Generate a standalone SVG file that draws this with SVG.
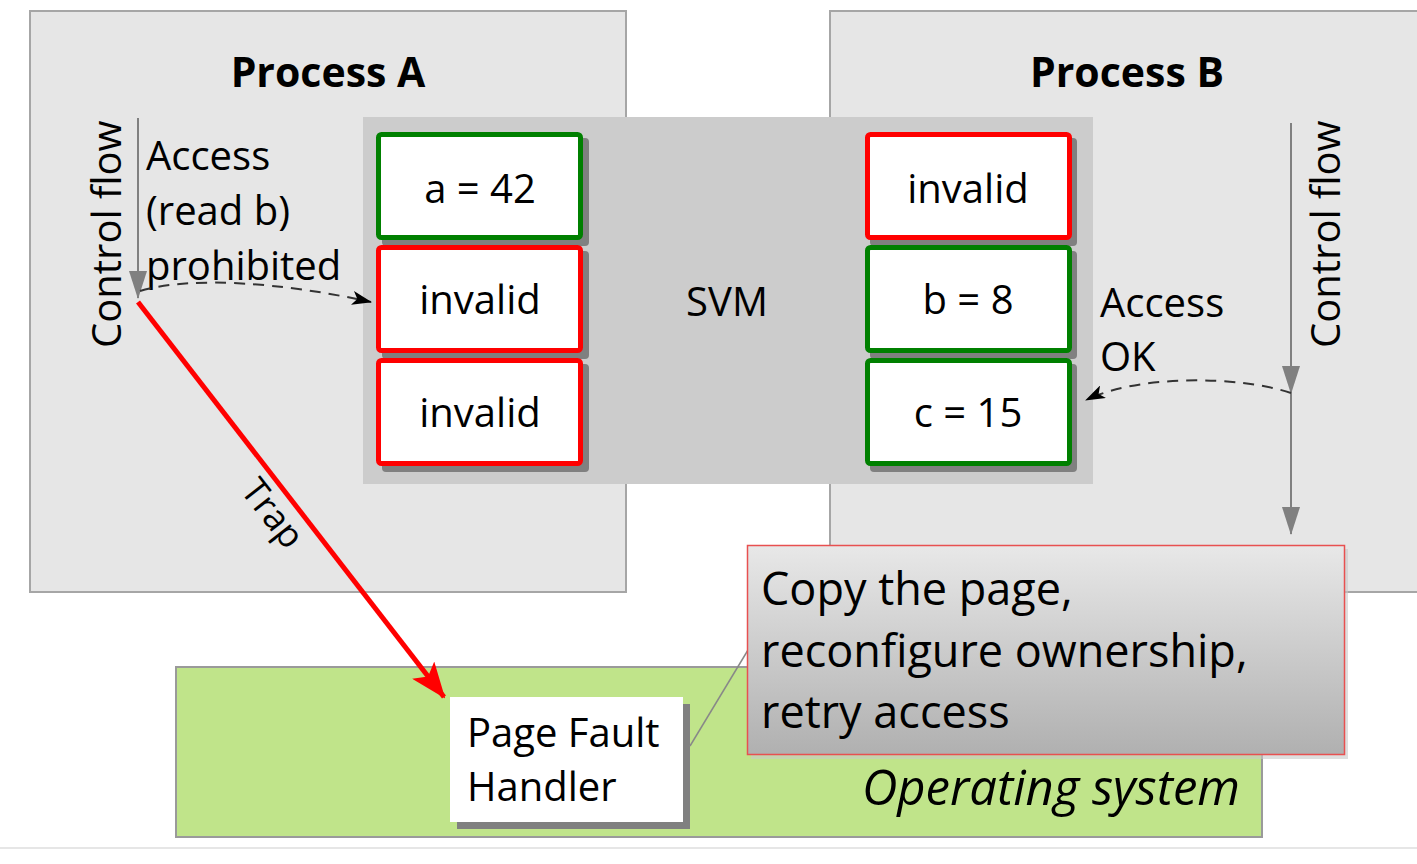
<svg xmlns="http://www.w3.org/2000/svg" width="1417" height="864" viewBox="0 0 1417 864">
<style>
text{font-family:"Open Sans","Noto Sans","Liberation Sans",sans-serif;fill:#000}
.proc{fill:#e6e6e6;stroke:#a6a6a6;stroke-width:2}
.title{font-weight:bold;font-size:41px;text-anchor:middle}
.lbl{font-size:40px}
.mem{font-size:40px;text-anchor:middle}
.shadow{fill:#808080}
.memg{fill:#fff;stroke:#008000;stroke-width:5}
.memr{fill:#fff;stroke:#ff0000;stroke-width:5}
.flow{stroke:#808080;stroke-width:2;fill:none}
.dash{stroke:#333;stroke-width:2;fill:none;stroke-dasharray:11 8}
</style>
<defs>
<marker id="grayArrow" viewBox="0 0 28 18" refX="27" refY="9" markerWidth="28" markerHeight="18" orient="auto" markerUnits="userSpaceOnUse">
<path d="M0,0 L28,9 L0,18 Z" fill="#808080"/>
</marker>
<marker id="blackArrow" viewBox="0 0 20 14" refX="19" refY="7" markerWidth="20" markerHeight="14" orient="auto" markerUnits="userSpaceOnUse">
<path d="M0,0 L20,7 L0,14 L5,7 Z" fill="#000"/>
</marker>
<marker id="redArrow" viewBox="0 0 36 28" refX="34" refY="14" markerWidth="36" markerHeight="28" orient="auto" markerUnits="userSpaceOnUse">
<path d="M0,0 L36,14 L0,28 L8,14 Z" fill="#ff0000"/>
</marker>
<linearGradient id="calloutGrad" x1="0" y1="0" x2="0" y2="1">
<stop offset="0" stop-color="#e8e8e8"/>
<stop offset="1" stop-color="#b0b0b0"/>
</linearGradient>
</defs>

<rect x="0" y="0" width="1417" height="864" fill="#fff"/>
<line x1="0" y1="848" x2="1417" y2="848" stroke="#e6e6e6" stroke-width="2"/>

<g id="processA">
<rect class="proc" x="30" y="11" width="596" height="581"/>
<text class="title" x="328" y="87">Process A</text>
</g>
<g id="processB">
<rect class="proc" x="830" y="11" width="600" height="581"/>
<text class="title" x="1127" y="87">Process B</text>
</g>

<g id="svm">
<rect x="363" y="117" width="730" height="367" fill="#cccccc"/>
<text class="lbl" x="727" y="316" text-anchor="middle">SVM</text>
</g>

<g id="memA1">
<rect class="shadow" x="382" y="138" width="207" height="108" rx="4"/>
<rect class="memg" x="378.5" y="134.5" width="202" height="103" rx="3"/>
<text class="mem" x="480" y="203">a = 42</text>
</g>
<g id="memA2">
<rect class="shadow" x="382" y="251" width="207" height="108" rx="4"/>
<rect class="memr" x="378.5" y="247.5" width="202" height="103" rx="3"/>
<text class="mem" x="480" y="314">invalid</text>
</g>
<g id="memA3">
<rect class="shadow" x="382" y="364" width="207" height="108" rx="4"/>
<rect class="memr" x="378.5" y="360.5" width="202" height="103" rx="3"/>
<text class="mem" x="480" y="427">invalid</text>
</g>
<g id="memB1">
<rect class="shadow" x="870" y="138" width="207" height="108" rx="4"/>
<rect class="memr" x="867.5" y="134.5" width="202" height="103" rx="3"/>
<text class="mem" x="968" y="203">invalid</text>
</g>
<g id="memB2">
<rect class="shadow" x="870" y="251" width="207" height="108" rx="4"/>
<rect class="memg" x="867.5" y="247.5" width="202" height="103" rx="3"/>
<text class="mem" x="968" y="314">b = 8</text>
</g>
<g id="memB3">
<rect class="shadow" x="870" y="364" width="207" height="108" rx="4"/>
<rect class="memg" x="867.5" y="360.5" width="202" height="103" rx="3"/>
<text class="mem" x="968" y="427">c = 15</text>
</g>

<g id="labelsA">
<text class="lbl" transform="translate(121,348) rotate(-90)">Control flow</text>
<text class="lbl" x="146" y="170">Access</text>
<text class="lbl" x="146" y="225">(read b)</text>
<text class="lbl" x="146" y="280">prohibited</text>
</g>
<g id="labelsB">
<text class="lbl" transform="translate(1340,348) rotate(-90)">Control flow</text>
<text class="lbl" x="1100" y="317">Access</text>
<text class="lbl" x="1100" y="371">OK</text>
</g>

<g id="os">
<rect x="176" y="667" width="1086" height="170" fill="#c0e48a" stroke="#9a9a9a" stroke-width="2"/>
<text x="1240" y="805" font-size="49" font-style="italic" text-anchor="end">Operating system</text>
</g>

<g id="pageFaultHandler">
<rect class="shadow" x="457" y="704" width="233" height="125"/>
<rect x="450" y="697" width="233" height="125" fill="#fff"/>
<text class="lbl" x="467" y="747">Page Fault</text>
<text class="lbl" x="467" y="801">Handler</text>
</g>

<g id="callout">
<line x1="690" y1="746" x2="748" y2="650" stroke="#888" stroke-width="1.5"/>
<rect x="751" y="549" width="597" height="210" fill="#c8c8c8" opacity="0.6"/>
<rect x="747.5" y="545.5" width="597" height="209" fill="url(#calloutGrad)" stroke="#e85050" stroke-width="1.5"/>
<text x="761" y="605" font-size="45">Copy the page,</text>
<text x="761" y="667" font-size="45">reconfigure ownership,</text>
<text x="761" y="728" font-size="45">retry access</text>
</g>

<g id="connectors">
<line class="flow" x1="138" y1="118" x2="138" y2="298" marker-end="url(#grayArrow)"/>
<line class="flow" x1="1291" y1="123" x2="1291" y2="393" marker-end="url(#grayArrow)"/>
<line class="flow" x1="1291" y1="393" x2="1291" y2="534" marker-end="url(#grayArrow)"/>
<path class="dash" d="M140,291 C190,276 280,282 371,302" marker-end="url(#blackArrow)"/>
<path class="dash" d="M1291,393 C1240,376 1140,374 1086,400" marker-end="url(#blackArrow)"/>
<line x1="138" y1="302" x2="444" y2="697" stroke="#ff0000" stroke-width="5" marker-end="url(#redArrow)"/>
<text font-size="36" text-anchor="middle" transform="translate(263,521) rotate(52.2)">Trap</text>
</g>
</svg>
